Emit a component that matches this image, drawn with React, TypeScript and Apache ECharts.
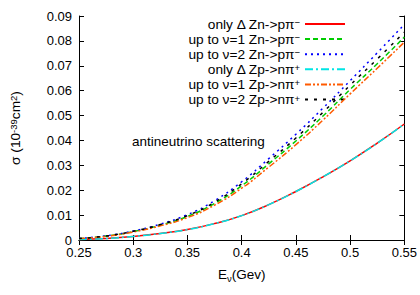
import React, { useEffect, useRef } from "react";
import * as echarts from "echarts";

const energies = [0.25, 0.275, 0.3, 0.325, 0.35, 0.375, 0.4, 0.425, 0.45, 0.475, 0.5, 0.525, 0.55];
const onlyDeltaZn = [0.0002, 0.0006, 0.0014, 0.0026, 0.0042, 0.0066, 0.0098, 0.0142, 0.0195, 0.0254, 0.0318, 0.0389, 0.0466];
const nu1Zn = [0.0005, 0.0016, 0.0034, 0.006, 0.0095, 0.0147, 0.0218, 0.0306, 0.0398, 0.0498, 0.0605, 0.0708, 0.0815];
const nu2Zn = [0.0006, 0.0017, 0.0036, 0.0064, 0.0102, 0.0158, 0.0234, 0.0327, 0.0425, 0.053, 0.064, 0.0752, 0.0866];
const onlyDeltaZp = [0.0002, 0.0006, 0.0014, 0.0026, 0.0042, 0.0066, 0.0098, 0.0142, 0.0195, 0.0254, 0.0318, 0.0389, 0.0466];
const nu1Zp = [0.0005, 0.0015, 0.0032, 0.0057, 0.009, 0.014, 0.0208, 0.0293, 0.0383, 0.0482, 0.0587, 0.069, 0.0795];
const nu2Zp = [0.0006, 0.0016, 0.0035, 0.0062, 0.0098, 0.0152, 0.0226, 0.0316, 0.041, 0.0513, 0.0622, 0.0727, 0.0835];

const seriesNames = ["s1", "s2", "s3", "s4", "s5", "s6"];
const legendLabels = [
  "only Δ Zn->pπ{sup|−}",
  "up to ν=1 Zn->pπ{sup|−}",
  "up to ν=2 Zn->pπ{sup|−}",
  "only Δ Zp->nπ{sup|+}",
  "up to ν=1 Zp->nπ{sup|+}",
  "up to ν=2 Zp->nπ{sup|+}",
];
const seriesData = [onlyDeltaZn, nu1Zn, nu2Zn, onlyDeltaZp, nu1Zp, nu2Zp];
const colors = ["#ff0000", "#00cc00", "#0000ff", "#00e5e5", "#ff5a00", "#000000"];
const dashes: any[] = ["solid", [5, 3], [2, 4], [8, 3, 2, 3], [6, 2, 2, 2, 2, 2], [3, 6]];

const FONT = "Liberation Sans, Arial, sans-serif";

export default function App() {
  const ref = useRef<HTMLDivElement>(null);
  useEffect(() => {
    if (!ref.current) return;
    const chart = echarts.init(ref.current, undefined, { renderer: "svg" });
    const sup = { fontSize: 9.5, verticalAlign: "top", lineHeight: 9, padding: [0, 0, 6, 0], fontFamily: FONT, color: "#000" };
    const legendSup = { fontSize: 9.5, verticalAlign: "top", lineHeight: 6, padding: [0, 0, 4, 0], fontFamily: FONT, color: "#000" };
    const axisCommon = {
      type: "value",
      axisLine: { show: true, lineStyle: { color: "#000", width: 1 } },
      axisTick: { show: true, inside: true, length: 5, lineStyle: { color: "#000" } },
      splitLine: { show: false },
    };
    const option: any = {
      animation: false,
      textStyle: { fontFamily: FONT },
      grid: { left: 78, right: 14, top: 16, bottom: 55 },
      legend: {
        orient: "vertical",
        right: 74,
        top: 17,
        align: "right",
        padding: 0,
        itemWidth: 40,
        itemHeight: 10,
        itemGap: 0.6,
        data: seriesNames,
        itemStyle: { opacity: 0 },
        textStyle: { fontSize: 13.7, lineHeight: 13, color: "#000", fontFamily: FONT, rich: { sup: legendSup } },
        formatter: (name: string) => legendLabels[seriesNames.indexOf(name)],
      },
      xAxis: [
        {
          ...axisCommon,
          min: 0.25,
          max: 0.55,
          interval: 0.05,
          name: "E{sub|ν}(Gev)",
          nameLocation: "middle",
          nameGap: 26,
          nameTextStyle: {
            fontSize: 13.5,
            color: "#000",
            fontFamily: FONT,
            rich: { sub: { fontSize: 9.5, verticalAlign: "bottom", padding: [7, 0, 0, 0], fontFamily: FONT, color: "#000" } },
          },
          axisLabel: { fontSize: 13, color: "#000", margin: 6 },
        },
        {
          ...axisCommon,
          position: "top",
          min: 0.25,
          max: 0.55,
          interval: 0.05,
          axisLabel: { show: false },
        },
      ],
      yAxis: [
        {
          ...axisCommon,
          min: 0,
          max: 0.09,
          interval: 0.01,
          name: "σ (10{sup|-39}cm{sup|2})",
          nameLocation: "middle",
          nameRotate: 90,
          nameGap: 57,
          nameTextStyle: { fontSize: 13.7, color: "#000", fontFamily: FONT, rich: { sup } },
          axisLabel: { fontSize: 13, color: "#000", margin: 7, verticalAlign: "middle" },
        },
        {
          ...axisCommon,
          position: "right",
          min: 0,
          max: 0.09,
          interval: 0.01,
          axisLabel: { show: false },
        },
      ],
      graphic: [
        {
          type: "text",
          left: 132,
          top: 134,
          style: { text: "antineutrino scattering", fontSize: 13.5, fill: "#000", fontFamily: FONT },
        },
      ],
      series: seriesNames.map((n, i) => ({
        name: n,
        type: "line",
        smooth: true,
        symbol: "none",
        xAxisIndex: 0,
        yAxisIndex: 0,
        data: energies.map((e, j) => [e, seriesData[i][j]]),
        lineStyle: { color: colors[i], width: 1.5, type: dashes[i] },
        itemStyle: { color: colors[i] },
        z: 2 + i,
      })),
    };
    chart.setOption(option);
    return () => chart.dispose();
  }, []);
  return <div ref={ref} style={{ position: "absolute", left: 0, top: 0, width: 420, height: 295 }} />;
}
